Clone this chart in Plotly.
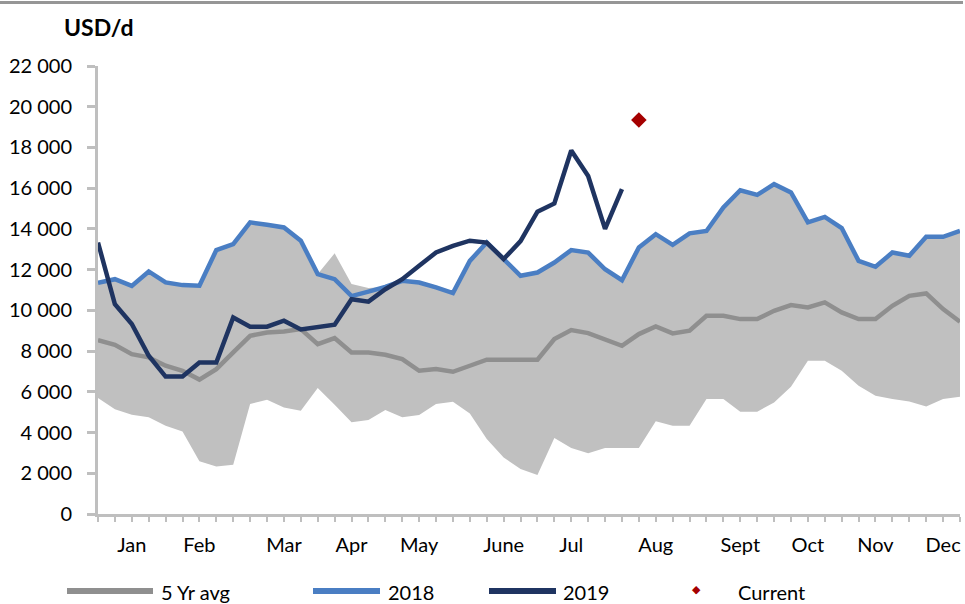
import plotly.graph_objects as go

# ---- data (weekly, 52 weeks) ----
weeks = list(range(1, 53))
month_weeks = [3, 7, 12, 16, 20, 25, 29, 34, 39, 43, 47, 51]
month_labels = ["Jan", "Feb", "Mar", "Apr", "May", "June", "Jul", "Aug", "Sept", "Oct", "Nov", "Dec"]

y_ticks = [0, 2000, 4000, 6000, 8000, 10000, 12000, 14000, 16000, 18000, 20000, 22000]
y_tick_labels = ["0", "2 000", "4 000", "6 000", "8 000", "10 000", "12 000", "14 000",
                 "16 000", "18 000", "20 000", "22 000"]

band_min = [5700, 5150, 4875, 4745, 4335, 4055, 2585, 2330, 2420, 5400, 5610, 5235, 5070,
            6185, 5365, 4500, 4615, 5105, 4745, 4860, 5400, 5515, 4940, 3680, 2780, 2210,
            1915, 3730, 3240, 2980, 3240, 3240, 3240, 4550, 4335, 4335, 5645, 5645, 5020,
            5020, 5480, 6250, 7525, 7525, 7035, 6300, 5810, 5645, 5530, 5285, 5645, 5760]

band_max = [11350, 11530, 11200, 11910, 11370, 11240, 11210, 12960, 13250, 14320, 14200,
            14070, 13420, 11780, 12800, 11290, 11100, 11150, 11450, 11370, 11125, 10850,
            12430, 13330, 12520, 11700, 11860, 12350, 12960, 12840, 12020, 11480, 13090,
            13740, 13220, 13780, 13900, 15050, 15900, 15670, 16200, 15790, 14320, 14590,
            14040, 12430, 12140, 12840, 12680, 13610, 13610, 13900]

avg_5yr = [8540, 8310, 7850, 7690, 7280, 7035, 6600, 7115, 7935, 8750, 8915, 8965, 9080,
           8340, 8640, 7935, 7935, 7820, 7610, 7035, 7115, 6985, 7280, 7575, 7575, 7575,
           7575, 8590, 9030, 8885, 8590, 8260, 8835, 9210, 8870, 9000, 9730, 9730, 9570,
           9570, 9980, 10260, 10140, 10390, 9900, 9570, 9570, 10225, 10715, 10830, 10060, 9440]

y2018 = [11350, 11530, 11200, 11910, 11370, 11240, 11210, 12960, 13250, 14320, 14200,
         14070, 13420, 11780, 11530, 10700, 10920, 11150, 11450, 11370, 11125, 10850,
         12430, 13330, 12520, 11700, 11860, 12350, 12960, 12840, 12020, 11480, 13090,
         13740, 13220, 13780, 13900, 15050, 15900, 15670, 16200, 15790, 14320, 14590,
         14040, 12430, 12140, 12840, 12680, 13610, 13610, 13900]

y2019 = [13330, 10300, 9330, 7770, 6750, 6750, 7440, 7440, 9650, 9200, 9200, 9490, 9060,
         9200, 9300, 10550, 10430, 11040, 11530, 12190, 12840, 13170, 13420, 13330, 12520,
         13400, 14850, 15250, 17850, 16600, 14000, 15950]

current_week = [33]
current_value = [19350]

# ---- colours ----
C_BAND = "#c0c0c0"
C_AVG = "#8f8f8f"
C_2018 = "#4a7ec3"
C_2019 = "#1f3461"
C_CUR = "#a50000"
C_AXIS = "#bfbfbf"
FONT = "Lato"

fig = go.Figure()
fig.add_trace(go.Scatter(x=weeks, y=band_min, mode="lines", line=dict(width=0),
                         showlegend=False, hoverinfo="skip"))
fig.add_trace(go.Scatter(x=weeks, y=band_max, mode="lines", line=dict(width=0),
                         fill="tonexty", fillcolor=C_BAND, showlegend=False, hoverinfo="skip"))
fig.add_trace(go.Scatter(x=weeks, y=avg_5yr, mode="lines", name="5 Yr avg",
                         line=dict(color=C_AVG, width=4.5)))
fig.add_trace(go.Scatter(x=weeks, y=y2018, mode="lines", name="2018",
                         line=dict(color=C_2018, width=4.5)))
fig.add_trace(go.Scatter(x=weeks[:len(y2019)], y=y2019, mode="lines", name="2019",
                         line=dict(color=C_2019, width=4.5)))
fig.add_trace(go.Scatter(x=current_week, y=current_value, mode="markers", name="Current",
                         marker=dict(symbol="diamond", size=12, color=C_CUR)))

# plot area in pixels
L, R, T, B = 98, 960, 66, 514
W, H = 965, 604


def px(xp):
    return (xp - L) / (R - L)


def py(yp):
    return (B - yp) / (B - T)


fig.update_layout(
    width=W, height=H,
    margin=dict(l=L, r=W - R, t=T, b=H - B, autoexpand=False),
    plot_bgcolor="white", paper_bgcolor="white",
    showlegend=False,
    font=dict(family=FONT, size=20, color="#000000"),
    xaxis=dict(range=[1, 52], showgrid=False, zeroline=False,
               showline=True, linecolor=C_AXIS, linewidth=3,
               tickmode="array", tickvals=month_weeks, ticktext=month_labels,
               ticks="outside", ticklen=5, tickwidth=2, tickcolor=C_AXIS,
               ticklabelstandoff=6, automargin=False,
               minor=dict(ticks="outside", tick0=1, dtick=1, ticklen=5, tickwidth=2,
                          tickcolor=C_AXIS, showgrid=False),
               tickfont=dict(family=FONT, size=20, color="#000000")),
    yaxis=dict(range=[0, 22000], showgrid=False, zeroline=False,
               showline=True, linecolor=C_AXIS, linewidth=3,
               tickmode="array", tickvals=y_ticks, ticktext=y_tick_labels,
               ticks="outside", ticklen=8, tickwidth=2.5, tickcolor=C_AXIS,
               ticklabelstandoff=11, automargin=False,
               tickfont=dict(family=FONT, size=20, color="#000000")),
)

shapes = []
# top rule
shapes.append(dict(type="line", xref="paper", yref="paper", x0=px(0), x1=px(963),
                   y0=py(2.5), y1=py(2.5), line=dict(color="#969696", width=3)))
# legend line samples
for (x0, x1, col) in [(67, 153, C_AVG), (313, 380, C_2018), (489, 556, C_2019)]:
    shapes.append(dict(type="line", xref="paper", yref="paper", x0=px(x0), x1=px(x1),
                       y0=py(591), y1=py(591), line=dict(color=col, width=6)))
fig.update_layout(shapes=shapes)

annotations = [
    dict(text="<b>USD/d</b>", xref="paper", yref="paper", x=px(62), y=py(27),
         xanchor="left", yanchor="middle", showarrow=False,
         font=dict(family=FONT, size=23, color="#000000")),
]
for (x0, label) in [(159, "5 Yr avg"), (386, "2018"), (561, "2019"), (736, "Current")]:
    annotations.append(dict(text=label, xref="paper", yref="paper", x=px(x0), y=py(592),
                            xanchor="left", yanchor="middle", showarrow=False,
                            font=dict(family=FONT, size=20, color="#000000")))
annotations.append(dict(text="◆", xref="paper", yref="paper", x=px(696), y=py(589),
                        xanchor="center", yanchor="middle", showarrow=False,
                        font=dict(family="DejaVu Sans", size=11, color=C_CUR)))
fig.update_layout(annotations=annotations)

fig.write_html("out.html", config={"displayModeBar": False},
               post_script="document.body.style.margin='0';")
